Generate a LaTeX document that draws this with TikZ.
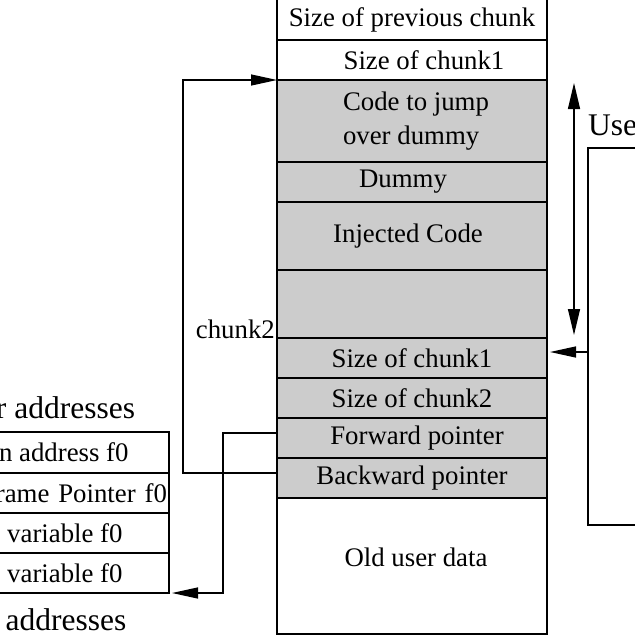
\documentclass[tikz,border=0pt]{standalone}
\usepackage{fontspec}
\setmainfont{Liberation Serif}
\usepackage{xcolor}
\usepackage{tikz}
\usetikzlibrary{positioning,calc,arrows.meta}
\tikzstyle{cell} = [rectangle, minimum width=270pt, minimum height=40pt, text centered, draw=black, line width=1.5pt, outer sep=0pt, inner sep=0pt]
\tikzstyle{used} = [cell, fill=gray!40]
\tikzstyle{label} = [inner sep=0pt, font=\fontsize{31.5}{37}\selectfont]
\tikzstyle{arrow} = [line width=1.3pt, -{Triangle[length=26pt,width=11pt]}]
\tikzstyle{twoway} = [line width=1.3pt, {Triangle[length=26pt,width=12pt]}-{Triangle[length=26pt,width=12pt]}]

\begin{document}
\begin{tikzpicture}[x=1pt, y=-1pt, font=\fontsize{26.8}{34}\selectfont]
    \useasboundingbox (0,0) rectangle (635,635);
    \clip (0,0) rectangle (635,635);

    % Chunk column
    \node (prev) [cell, minimum height=41pt, anchor=north] at (412,-1) {Size of previous chunk};
    \node (sizeone) [cell, below=0pt of prev] {\hspace*{24pt}Size of chunk1};
    \node (code) [used, minimum height=82pt, align=left, below=0pt of sizeone] {\hspace*{8pt}Code to jump\\\hspace*{8pt}over dummy};
    \node (dummy) [used, below=0pt of code] {Dummy\hspace*{18pt}};
    \node (inj) [used, minimum height=68pt, below=0pt of dummy] {Injected Code\hspace*{8pt}};
    \node (empty) [used, minimum height=68pt, below=0pt of inj] {};
    \node (sizeA) [used, below=0pt of empty] {Size of chunk1};
    \node (sizeB) [used, below=0pt of sizeA] {Size of chunk2};
    \node (fwd) [used, below=0pt of sizeB] {\hspace*{10pt}Forward pointer};
    \node (bwd) [used, below=0pt of fwd] {Backward pointer};
    \node (old) [cell, minimum height=136pt, below=0pt of bwd] {\raisebox{17pt}{\hspace*{8pt}Old user data}};
    \node [inner sep=0pt, anchor=base east] at ($(empty.south west)+(-2,0)$) {chunk2};

    % Stack frame
    \node (ret) [cell, minimum height=41pt, anchor=north] at (34,432) {Return address f0};
    \node (fp) [cell, text width=266pt, align=right, below=0pt of ret] {Frame Pointer f0};
    \node (lv1) [cell, below=0pt of fp] {Local variable f0\hspace*{6pt}};
    \node (lv2) [cell, below=0pt of lv1] {Local variable f0\hspace*{6pt}};
    \node (high) [label, anchor=base] at (27,418) {Higher addresses};
    \node (low) [label, anchor=base] at (21,630) {Lower addresses};

    % User data
    \node (usr) [label, anchor=base west] at (588,135) {User data};
    \node (user) [cell, minimum width=150pt, minimum height=377pt, anchor=north west] at (588,148) {};

    % Arrows
    \coordinate (bw) at ($(bwd.north west)+(0,15)$);
    \coordinate (fw) at ($(fwd.north west)+(0,15)$);
    \coordinate (ua) at ($(user.north west)+(0,204)$);
    \draw [arrow] (bw) -- ++(-94,0) |- (code.north west);
    \draw [arrow, shorten >=3pt] (fw) -- ++(-54,0) |- (lv2.south east);
    \draw [twoway] ($(code.north east)+(27,3)$) -- ($(sizeA.north east)+(27,-3)$);
    \draw [arrow, shorten >=3pt] (ua) -- (ua -| sizeA.east);

\end{tikzpicture}
\end{document}
